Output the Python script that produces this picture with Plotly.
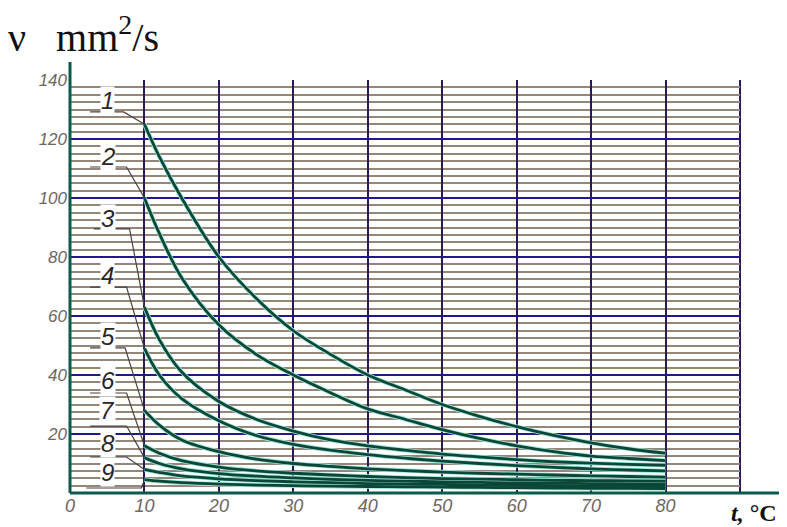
import plotly.graph_objects as go

# ---- data ----
temps = [10, 12, 15, 20, 25, 30, 35, 40, 45, 50, 55, 60, 65, 70, 75, 80]
curve1 = [125, 114, 100, 80, 66, 55, 47, 40, 35, 30, 26, 22.5, 19.5, 17, 15, 13.5]
curve2 = [100, 88, 73, 57, 47, 40, 34, 28.5, 25, 21.5, 18.5, 16, 14, 12.5, 11.7, 11]
curve3 = [63, 52, 41, 31, 25, 21, 18, 16, 14.5, 13.2, 12.2, 11.3, 10.6, 10.1, 9.7, 9.4]
curve4 = [49, 40, 32, 24.5, 19.5, 16.5, 14.5, 13, 11.8, 10.8, 10, 9.3, 8.7, 8.2, 7.8, 7.5]
curve5 = [28, 23, 18, 14, 11.5, 10, 9, 8.2, 7.6, 7.1, 6.7, 6.4, 6.1, 5.8, 5.6, 5.4]
curve6 = [16, 13.5, 11, 8.8, 7.5, 6.7, 6.1, 5.6, 5.2, 4.9, 4.7, 4.5, 4.3, 4.2, 4.1, 4]
curve7 = [12, 10, 8.2, 6.6, 5.7, 5.1, 4.6, 4.3, 4, 3.8, 3.6, 3.4, 3.3, 3.2, 3.1, 3]
curve8 = [8, 7, 5.8, 4.8, 4.2, 3.8, 3.5, 3.2, 3, 2.9, 2.7, 2.6, 2.5, 2.4, 2.3, 2.2]
curve9 = [4.5, 4, 3.5, 3, 2.7, 2.5, 2.3, 2.2, 2.1, 2, 1.9, 1.8, 1.7, 1.6, 1.6, 1.5]
curves = [curve1, curve2, curve3, curve4, curve5, curve6, curve7, curve8, curve9]
curve_names = ["1", "2", "3", "4", "5", "6", "7", "8", "9"]

x_ticks = [0, 10, 20, 30, 40, 50, 60, 70, 80, 90]
x_ticklabels = ["0", "10", "20", "30", "40", "50", "60", "70", "80", " "]
y_ticks = [0, 20, 40, 60, 80, 100, 120, 140]
y_ticklabels = [" ", "20", "40", "60", "80", "100", "120", "140"]

# label placement (layout, not data)
label_t = 5.1
label_v = [133.2, 113.9, 93.2, 73.6, 53.2, 38.0, 27.8, 16.9, 7.1]
underline_v = [129.2, 110.5, 89.5, 69.8, 49.2, 33.9, 22.7, 12.2, 1.7]
underline_t0 = [2.7, 2.7, 3.2, 2.7, 2.7, 2.7, 2.7, 2.7, 2.2]
underline_t1 = [7.2, 7.6, 8.0, 7.6, 7.4, 7.6, 7.6, 7.6, 9.6]

NAVY_V = "#2a1858"
NAVY_H = "#22188a"
GRAY = "#95867a"
TEAL = "#0b5a4b"
CURVE = "#0b4636"
GLOW = "#9fe6da"

fig = go.Figure()

# leader lines
for i in range(9):
    fig.add_trace(go.Scatter(
        x=[underline_t0[i], underline_t1[i], temps[0]],
        y=[underline_v[i], underline_v[i], curves[i][0]],
        mode="lines", line=dict(color="#4a4040", width=1.2),
        hoverinfo="skip", showlegend=False))

# curves: glow underneath, dark stroke on top
for c in curves:
    fig.add_trace(go.Scatter(x=temps, y=c, mode="lines",
                             line=dict(color=GLOW, width=4.5, shape="spline"),
                             hoverinfo="skip", showlegend=False))
for c, n in zip(curves, curve_names):
    fig.add_trace(go.Scatter(x=temps, y=c, mode="lines", name=n,
                             line=dict(color=CURVE, width=2.8, shape="spline"),
                             showlegend=False))

annotations = []
for i, n in enumerate(curve_names):
    annotations.append(dict(x=label_t, y=label_v[i], xref="x", yref="y",
                            text=n, showarrow=False,
                            font=dict(family="Liberation Sans", size=24,
                                      color="#2c2626", style="italic"),
                            bgcolor="white", borderpad=0))

annotations.append(dict(x=-64 / 670, y=1 + 18 / 413, xref="paper", yref="paper",
                        xanchor="left", yanchor="bottom",
                        text="ν   mm<sup>2</sup>/s", showarrow=False,
                        font=dict(family="Liberation Serif", size=40, color="#111")))
annotations.append(dict(x=1.058, y=-20 / 413, xref="paper", yref="paper",
                        xanchor="right", yanchor="middle",
                        text="<b><i>t,</i> °C</b>", showarrow=False,
                        font=dict(family="Liberation Serif", size=24, color="#111")))

shapes = [
    dict(type="line", xref="paper", yref="paper", x0=1, x1=1, y0=0, y1=1,
         line=dict(color=NAVY_V, width=2), layer="below"),
    dict(type="line", xref="paper", yref="paper", x0=0, x1=712 / 670, y0=0, y1=0,
         line=dict(color=TEAL, width=3), layer="above"),
    dict(type="line", xref="paper", yref="paper", x0=0, x1=0, y0=0, y1=431 / 413,
         line=dict(color=TEAL, width=3), layer="above"),
]

# page body has an 8px margin, so the figure is sized/margined to compensate
fig.update_layout(
    width=779, height=519,
    margin=dict(l=62, r=47, t=72, b=34),
    paper_bgcolor="white", plot_bgcolor="white",
    annotations=annotations, shapes=shapes,
    xaxis=dict(range=[0, 90], tickmode="array", tickvals=x_ticks, ticktext=x_ticklabels,
               showgrid=True, gridcolor=NAVY_V, gridwidth=2, zeroline=False,
               showline=False, ticks="",
               tickfont=dict(family="Liberation Sans", size=18, color="#6e6662", style="italic")),
    yaxis=dict(range=[0, 140], tickmode="array", tickvals=y_ticks, ticktext=y_ticklabels,
               showgrid=True, gridcolor=NAVY_H, gridwidth=2, zeroline=False,
               showline=False, ticks="", ticklabelstandoff=2,
               minor=dict(dtick=2.5, tick0=0, showgrid=True, gridcolor=GRAY, gridwidth=2),
               tickfont=dict(family="Liberation Sans", size=17, color="#6e6662", style="italic")),
)

fig.write_html("out.html")
